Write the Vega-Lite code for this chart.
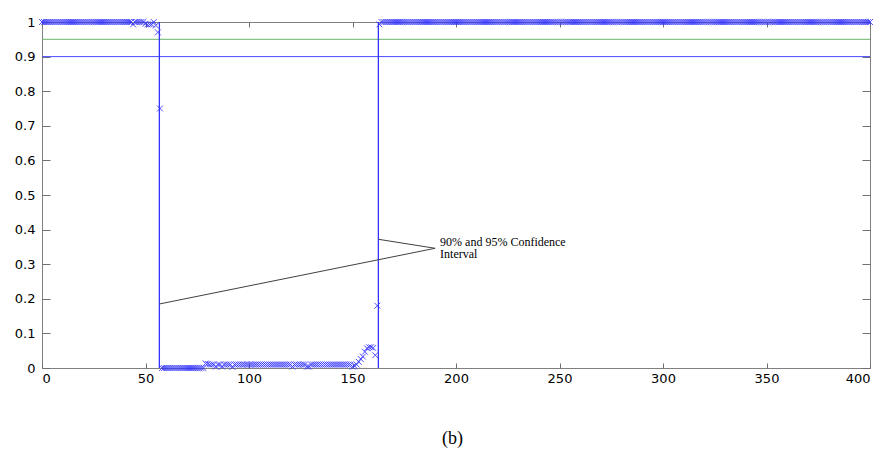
{
"$schema": "https://vega.github.io/schema/vega-lite/v6.json",
"width": 828, "height": 346,
"autosize": {"type": "none"},
"padding": {"left": 42, "top": 22, "right": 15, "bottom": 83},
"background": "white",
"config": {"view": {"stroke": "#808080", "strokeWidth": 1},
  "axis": {"grid": false, "domain": false, "tickColor": "#707070", "labelColor": "black", "labelFont": "DejaVu Sans", "labelFontSize": 13, "labelOverlap": false}},
"datasets": {
"pts": [
{"x":0,"y":1},{"x":1,"y":1},{"x":2,"y":1},{"x":3,"y":1},{"x":4,"y":1},{"x":5,"y":1},{"x":6,"y":1},{"x":7,"y":1},{"x":8,"y":1},{"x":9,"y":1},
{"x":10,"y":1},{"x":11,"y":1},{"x":12,"y":1},{"x":13,"y":1},{"x":14,"y":1},{"x":15,"y":1},{"x":16,"y":1},{"x":17,"y":1},{"x":18,"y":1},{"x":19,"y":1},
{"x":20,"y":1},{"x":21,"y":1},{"x":22,"y":1},{"x":23,"y":1},{"x":24,"y":1},{"x":25,"y":1},{"x":26,"y":1},{"x":27,"y":1},{"x":28,"y":1},{"x":29,"y":1},
{"x":30,"y":1},{"x":31,"y":1},{"x":32,"y":1},{"x":33,"y":1},{"x":34,"y":1},{"x":35,"y":1},{"x":36,"y":1},{"x":37,"y":1},{"x":38,"y":1},{"x":39,"y":1},
{"x":40,"y":1},{"x":41,"y":1},{"x":42,"y":1},{"x":43,"y":1},{"x":44,"y":0.993},{"x":45,"y":1},{"x":46,"y":1},{"x":47,"y":1},{"x":48,"y":1},{"x":49,"y":1},
{"x":50,"y":0.995},{"x":51,"y":0.993},{"x":52,"y":0.993},{"x":53,"y":0.993},{"x":54,"y":1},{"x":55,"y":0.99},{"x":56,"y":0.97},{"x":57,"y":0.75},{"x":58,"y":0},{"x":59,"y":0},
{"x":60,"y":0},{"x":61,"y":0},{"x":62,"y":0},{"x":63,"y":0},{"x":64,"y":0},{"x":65,"y":0},{"x":66,"y":0},{"x":67,"y":0},{"x":68,"y":0},{"x":69,"y":0},
{"x":70,"y":0},{"x":71,"y":0},{"x":72,"y":0},{"x":73,"y":0},{"x":74,"y":0},{"x":75,"y":0},{"x":76,"y":0},{"x":77,"y":0},{"x":78,"y":0},{"x":79,"y":0.013},
{"x":80,"y":0.012},{"x":81,"y":0.01},{"x":82,"y":0.01},{"x":83,"y":0.01},{"x":84,"y":0.004},{"x":85,"y":0.01},{"x":86,"y":0.01},{"x":87,"y":0.004},{"x":88,"y":0.01},{"x":89,"y":0.01},
{"x":90,"y":0.01},{"x":91,"y":0.01},{"x":92,"y":0.003},{"x":93,"y":0.01},{"x":94,"y":0.01},{"x":95,"y":0.01},{"x":96,"y":0.01},{"x":97,"y":0.01},{"x":98,"y":0.01},{"x":99,"y":0.01},
{"x":100,"y":0.01},{"x":101,"y":0.01},{"x":102,"y":0.01},{"x":103,"y":0.01},{"x":104,"y":0.01},{"x":105,"y":0.01},{"x":106,"y":0.01},{"x":107,"y":0.01},{"x":108,"y":0.01},{"x":109,"y":0.01},
{"x":110,"y":0.01},{"x":111,"y":0.01},{"x":112,"y":0.01},{"x":113,"y":0.01},{"x":114,"y":0.01},{"x":115,"y":0.01},{"x":116,"y":0.01},{"x":117,"y":0.01},{"x":118,"y":0.01},{"x":119,"y":0.01},
{"x":120,"y":0.01},{"x":121,"y":0.004},{"x":122,"y":0.01},{"x":123,"y":0.01},{"x":124,"y":0.01},{"x":125,"y":0.01},{"x":126,"y":0.01},{"x":127,"y":0.01},{"x":128,"y":0.004},{"x":129,"y":0.004},
{"x":130,"y":0.01},{"x":131,"y":0.01},{"x":132,"y":0.01},{"x":133,"y":0.01},{"x":134,"y":0.01},{"x":135,"y":0.01},{"x":136,"y":0.01},{"x":137,"y":0.01},{"x":138,"y":0.01},{"x":139,"y":0.01},
{"x":140,"y":0.01},{"x":141,"y":0.01},{"x":142,"y":0.01},{"x":143,"y":0.01},{"x":144,"y":0.01},{"x":145,"y":0.01},{"x":146,"y":0.01},{"x":147,"y":0.01},{"x":148,"y":0.01},{"x":149,"y":0.01},
{"x":150,"y":0.004},{"x":151,"y":0.006},{"x":152,"y":0.01},{"x":153,"y":0.018},{"x":154,"y":0.026},{"x":155,"y":0.033},{"x":156,"y":0.047},{"x":157,"y":0.057},{"x":158,"y":0.06},{"x":159,"y":0.06},
{"x":160,"y":0.058},{"x":161,"y":0.037},{"x":162,"y":0.18},{"x":163,"y":0.993},{"x":164,"y":1},{"x":165,"y":1},{"x":166,"y":1},{"x":167,"y":1},{"x":168,"y":1},{"x":169,"y":1},
{"x":170,"y":1},{"x":171,"y":1},{"x":172,"y":1},{"x":173,"y":1},{"x":174,"y":1},{"x":175,"y":1},{"x":176,"y":1},{"x":177,"y":1},{"x":178,"y":1},{"x":179,"y":1},
{"x":180,"y":1},{"x":181,"y":1},{"x":182,"y":1},{"x":183,"y":1},{"x":184,"y":1},{"x":185,"y":1},{"x":186,"y":1},{"x":187,"y":1},{"x":188,"y":1},{"x":189,"y":1},
{"x":190,"y":1},{"x":191,"y":1},{"x":192,"y":1},{"x":193,"y":1},{"x":194,"y":1},{"x":195,"y":1},{"x":196,"y":1},{"x":197,"y":1},{"x":198,"y":1},{"x":199,"y":1},
{"x":200,"y":1},{"x":201,"y":1},{"x":202,"y":1},{"x":203,"y":1},{"x":204,"y":1},{"x":205,"y":1},{"x":206,"y":1},{"x":207,"y":1},{"x":208,"y":1},{"x":209,"y":1},
{"x":210,"y":1},{"x":211,"y":1},{"x":212,"y":1},{"x":213,"y":1},{"x":214,"y":1},{"x":215,"y":1},{"x":216,"y":1},{"x":217,"y":1},{"x":218,"y":1},{"x":219,"y":1},
{"x":220,"y":1},{"x":221,"y":1},{"x":222,"y":1},{"x":223,"y":1},{"x":224,"y":1},{"x":225,"y":1},{"x":226,"y":1},{"x":227,"y":1},{"x":228,"y":1},{"x":229,"y":1},
{"x":230,"y":1},{"x":231,"y":1},{"x":232,"y":1},{"x":233,"y":1},{"x":234,"y":1},{"x":235,"y":1},{"x":236,"y":1},{"x":237,"y":1},{"x":238,"y":1},{"x":239,"y":1},
{"x":240,"y":1},{"x":241,"y":1},{"x":242,"y":1},{"x":243,"y":1},{"x":244,"y":1},{"x":245,"y":1},{"x":246,"y":1},{"x":247,"y":1},{"x":248,"y":1},{"x":249,"y":1},
{"x":250,"y":1},{"x":251,"y":1},{"x":252,"y":1},{"x":253,"y":1},{"x":254,"y":1},{"x":255,"y":1},{"x":256,"y":1},{"x":257,"y":1},{"x":258,"y":1},{"x":259,"y":1},
{"x":260,"y":1},{"x":261,"y":1},{"x":262,"y":1},{"x":263,"y":1},{"x":264,"y":1},{"x":265,"y":1},{"x":266,"y":1},{"x":267,"y":1},{"x":268,"y":1},{"x":269,"y":1},
{"x":270,"y":1},{"x":271,"y":1},{"x":272,"y":1},{"x":273,"y":1},{"x":274,"y":1},{"x":275,"y":1},{"x":276,"y":1},{"x":277,"y":1},{"x":278,"y":1},{"x":279,"y":1},
{"x":280,"y":1},{"x":281,"y":1},{"x":282,"y":1},{"x":283,"y":1},{"x":284,"y":1},{"x":285,"y":1},{"x":286,"y":1},{"x":287,"y":1},{"x":288,"y":1},{"x":289,"y":1},
{"x":290,"y":1},{"x":291,"y":1},{"x":292,"y":1},{"x":293,"y":1},{"x":294,"y":1},{"x":295,"y":1},{"x":296,"y":1},{"x":297,"y":1},{"x":298,"y":1},{"x":299,"y":1},
{"x":300,"y":1},{"x":301,"y":1},{"x":302,"y":1},{"x":303,"y":1},{"x":304,"y":1},{"x":305,"y":1},{"x":306,"y":1},{"x":307,"y":1},{"x":308,"y":1},{"x":309,"y":1},
{"x":310,"y":1},{"x":311,"y":1},{"x":312,"y":1},{"x":313,"y":1},{"x":314,"y":1},{"x":315,"y":1},{"x":316,"y":1},{"x":317,"y":1},{"x":318,"y":1},{"x":319,"y":1},
{"x":320,"y":1},{"x":321,"y":1},{"x":322,"y":1},{"x":323,"y":1},{"x":324,"y":1},{"x":325,"y":1},{"x":326,"y":1},{"x":327,"y":1},{"x":328,"y":1},{"x":329,"y":1},
{"x":330,"y":1},{"x":331,"y":1},{"x":332,"y":1},{"x":333,"y":1},{"x":334,"y":1},{"x":335,"y":1},{"x":336,"y":1},{"x":337,"y":1},{"x":338,"y":1},{"x":339,"y":1},
{"x":340,"y":1},{"x":341,"y":1},{"x":342,"y":1},{"x":343,"y":1},{"x":344,"y":1},{"x":345,"y":1},{"x":346,"y":1},{"x":347,"y":1},{"x":348,"y":1},{"x":349,"y":1},
{"x":350,"y":1},{"x":351,"y":1},{"x":352,"y":1},{"x":353,"y":1},{"x":354,"y":1},{"x":355,"y":1},{"x":356,"y":1},{"x":357,"y":1},{"x":358,"y":1},{"x":359,"y":1},
{"x":360,"y":1},{"x":361,"y":1},{"x":362,"y":1},{"x":363,"y":1},{"x":364,"y":1},{"x":365,"y":1},{"x":366,"y":1},{"x":367,"y":1},{"x":368,"y":1},{"x":369,"y":1},
{"x":370,"y":1},{"x":371,"y":1},{"x":372,"y":1},{"x":373,"y":1},{"x":374,"y":1},{"x":375,"y":1},{"x":376,"y":1},{"x":377,"y":1},{"x":378,"y":1},{"x":379,"y":1},
{"x":380,"y":1},{"x":381,"y":1},{"x":382,"y":1},{"x":383,"y":1},{"x":384,"y":1},{"x":385,"y":1},{"x":386,"y":1},{"x":387,"y":1},{"x":388,"y":1},{"x":389,"y":1},
{"x":390,"y":1},{"x":391,"y":1},{"x":392,"y":1},{"x":393,"y":1},{"x":394,"y":1},{"x":395,"y":1},{"x":396,"y":1},{"x":397,"y":1},{"x":398,"y":1},{"x":399,"y":1},
{"x":400,"y":1}
],
"cps": [{"x": 56.7}, {"x": 162.5}],
"hl": [{"level": 0.95, "ci": "95%"}, {"level": 0.9, "ci": "90%"}],
"segs": [{"seg":"a","x":56.7,"y":0.185},{"seg":"a","x":189.9,"y":0.346},{"seg":"b","x":162.5,"y":0.372},{"seg":"b","x":189.9,"y":0.346}],
"labels": [{"x":192.3,"y":0.365,"t":"90% and 95% Confidence\nInterval"}]
},
"resolve": {"axis": {"x": "independent", "y": "independent"}},
"layer": [
{"layer": [
 {"data": {"name": "hl"}, "mark": {"type": "rule", "strokeWidth": 1},
  "encoding": {"y": {"field": "level", "type": "quantitative", "axis": null},
   "color": {"field": "ci", "type": "nominal", "scale": {"domain": ["95%", "90%"], "range": ["#6ab36a", "#4a4aff"]}, "legend": null}}},
 {"data": {"name": "cps"}, "mark": {"type": "rule", "color": "#3333ff", "strokeWidth": 1.3},
  "encoding": {"x": {"field": "x", "type": "quantitative", "axis": null}, "y": {"datum": 0, "type": "quantitative", "axis": null}, "y2": {"datum": 1}}},
 {"data": {"name": "pts"},
  "mark": {"type": "point", "shape": "M-1,-1L1,1M-1,1L1,-1", "size": 34, "filled": false, "color": "#3030ff", "strokeWidth": 1, "opacity": 0.85},
  "encoding": {
   "x": {"field": "x", "type": "quantitative", "scale": {"domain": [0, 400], "nice": false, "zero": false}, "axis": null},
   "y": {"field": "y", "type": "quantitative", "scale": {"domain": [0, 1], "nice": false}, "axis": null}
  }},
 {"data": {"name": "segs"}, "mark": {"type": "line", "color": "#404040", "strokeWidth": 1},
  "encoding": {"x": {"field": "x", "type": "quantitative", "axis": null}, "y": {"field": "y", "type": "quantitative", "axis": null}, "detail": {"field": "seg"}}},
 {"data": {"name": "labels"}, "mark": {"type": "text", "align": "left", "baseline": "middle", "font": "Liberation Serif", "fontSize": 12, "lineHeight": 12.5, "lineBreak": "\n", "dy": 0, "color": "black"},
  "encoding": {"x": {"field": "x", "type": "quantitative", "axis": null}, "y": {"field": "y", "type": "quantitative", "axis": null}, "text": {"field": "t"}}}
]},
{"data": {"name": "cps"}, "mark": {"type": "point", "opacity": 0},
 "encoding": {
  "x": {"field": "x", "type": "quantitative",
     "axis": {"values": [0,50,100,150,200,250,300,350,400], "tickSize": -5, "labelPadding": 9,
       "title": "(b)", "titleFont": "Liberation Serif", "titleFontSize": 18, "titleFontWeight": "normal", "titleColor": "black",
       "titleX": 410, "titleY": 75, "titleAlign": "center", "titleBaseline": "alphabetic"}},
  "y": {"datum": 0.5, "type": "quantitative",
     "axis": {"values": [0,0.1,0.2,0.3,0.4,0.5,0.6,0.7,0.8,0.9,1], "format": "~g", "tickSize": -8, "labelPadding": 15, "title": null}}
 }},
{"data": {"name": "cps"}, "mark": {"type": "point", "opacity": 0},
 "encoding": {
  "x": {"field": "x", "type": "quantitative", "axis": {"orient": "top", "values": [0,50,100,150,200,250,300,350,400], "tickSize": -5, "labels": false, "title": null}},
  "y": {"datum": 0.5, "type": "quantitative", "axis": {"orient": "right", "values": [0,0.1,0.2,0.3,0.4,0.5,0.6,0.7,0.8,0.9,1], "tickSize": -8, "labels": false, "title": null}}
 }}
]
}
